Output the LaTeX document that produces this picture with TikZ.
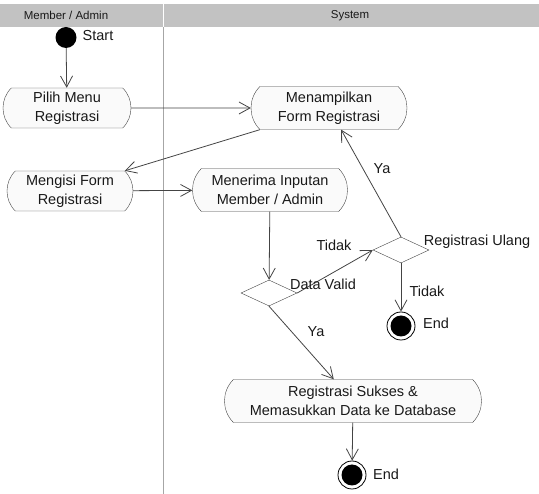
\documentclass[tikz,border=0pt]{standalone}
\usepackage{fontspec}
\setmainfont{Liberation Sans}
\usetikzlibrary{arrows.meta}
\usetikzlibrary{shapes.misc}
\usetikzlibrary{shapes.geometric}
\usepackage{xcolor}
\definecolor{lanegray}{HTML}{C2C2C2}
\definecolor{linegray}{HTML}{444444}
\tikzset{
  action/.style={rounded rectangle, rounded rectangle arc length=90, draw=linegray, fill=black!2,
    inner sep=0pt, align=center, font=\fontsize{14.5}{19}\selectfont, text=black!90},
  decision/.style={diamond, draw=linegray, fill=white, inner sep=0pt, minimum width=56, minimum height=26},
  flow/.style={draw=linegray, thick, -{Straight Barb[length=11pt,width=12pt]}},
  lbl/.style={font=\fontsize{14.5}{17}\selectfont, text=black!90, inner sep=0pt}
}
\begin{document}
\begin{tikzpicture}[x=1pt,y=-1pt]
\useasboundingbox (0,0) rectangle (539,494);
% swimlanes
\fill[lanegray] (0,4) rectangle (539,27);
\draw[white, thick] (163,4)--(163,27);
\draw[black!35, thick] (163,27)--(163,494);
\node[font=\fontsize{11.5}{13}\selectfont, text=black!90] (laneA) at (66,15.5) {Member / Admin};
\node[font=\fontsize{11.5}{13}\selectfont, text=black!90] (laneB) at (350,15.5) {System};
% nodes
\node[circle, fill=black, minimum size=21, inner sep=0] (start) at (66,37.5) {};
\node[lbl] (startlbl) at (98,36) {Start};
\node[action, minimum width=128, minimum height=40] (pilih) at (67,108) {Pilih Menu\\Registrasi};
\node[action, minimum width=156, minimum height=43] (tampil) at (329,108) {Menampilkan\\Form Registrasi};
\node[action, minimum width=126, minimum height=40] (isi) at (70,191) {Mengisi Form\\Registrasi};
\node[action, minimum width=155, minimum height=43] (terima) at (270,190) {Menerima Inputan\\Member / Admin};
\node[decision] (valid) at (269,293) {};
\node[decision] (ulang) at (401,250) {};
\node[action, minimum width=257, minimum height=43] (sukses) at (353,401) {Registrasi Sukses \&\\Memasukkan Data ke Database};
\node[circle, draw=black, thick, minimum size=28, inner sep=0] (endA) at (401,326) {};
\fill (endA) circle (10.5);
\node[circle, draw=black, thick, minimum size=28, inner sep=0] (endB) at (352,475) {};
\fill (endB) circle (10.5);
% connectors
\draw[flow] (start) -- (pilih);
\draw[flow] (pilih) -- (tampil);
\draw[flow] (tampil.south west) -- (isi.north east);
\draw[flow] (isi) -- (terima);
\draw[flow] (terima) -- (valid);
\draw[flow] (valid.east) -- (ulang.west);
\draw[flow] (ulang.north) -- (tampil);
\draw[flow] (ulang) -- (endA);
\draw[flow] (valid.south) -- (sukses);
\draw[flow] (sukses) -- (endB);
% labels
\node[lbl] (validlbl) at (323,284) {Data Valid};
\node[lbl] (ulanglbl) at (477,242) {Registrasi Ulang};
\node[lbl] (tidakA) at (334,245) {Tidak};
\node[lbl] (tidakB) at (427,291) {Tidak};
\node[lbl] (yaA) at (382,169) {Ya};
\node[lbl] (yaB) at (316,332) {Ya};
\node[lbl] (endlblA) at (436,323) {End};
\node[lbl] (endlblB) at (386,474) {End};
\end{tikzpicture}
\end{document}
